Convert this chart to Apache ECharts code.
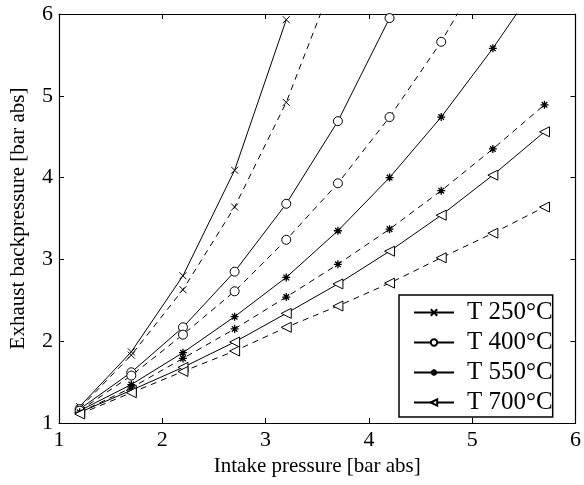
<!DOCTYPE html>
<html>
<head>
<meta charset="utf-8">
<script src="https://cdn.jsdelivr.net/npm/echarts@6/dist/echarts.min.js"></script>
<style>
  html, body { margin: 0; padding: 0; background: #fff; }
  #chart { width: 584px; height: 485px; }
</style>
</head>
<body>
<div id="chart"></div>
<script>
// intake pressure [bar abs]
const intake = [1.2, 1.7, 2.2, 2.7, 3.2, 3.7, 4.2, 4.7, 5.2, 5.7];

// exhaust backpressure, solid lines (in legend)
const t250 = [1.2, 1.87, 2.8, 4.09, 5.93];
const t400 = [1.17, 1.62, 2.17, 2.85, 3.68, 4.69, 5.95];
const t550 = [1.15, 1.47, 1.86, 2.3, 2.78, 3.35, 4.0, 4.74, 5.58, 6.5];
const t700 = [1.13, 1.4, 1.68, 1.99, 2.34, 2.7, 3.1, 3.54, 4.03, 4.56];

// dashed lines (same markers, not in legend)
const t250b = [1.18, 1.83, 2.63, 3.64, 4.92, 6.55];
const t400b = [1.15, 1.58, 2.08, 2.61, 3.24, 3.93, 4.74, 5.66, 6.75];
const t550b = [1.13, 1.43, 1.79, 2.15, 2.54, 2.94, 3.37, 3.84, 4.35, 4.89];
const t700b = [1.11, 1.37, 1.63, 1.88, 2.17, 2.43, 2.71, 3.02, 3.32, 3.64];

const legendNames = ['T 250°C', 'T 400°C', 'T 550°C', 'T 700°C'];
const axisTicks = [1, 2, 3, 4, 5, 6];

const FONT = '"Liberation Serif", "DejaVu Serif", serif';

const crossSym = 'path://M0,0L10,10M10,0L0,10';
const starSym = 'path://M5,0L5,10M0,5L10,5M1.5,1.5L8.5,8.5M8.5,1.5L1.5,8.5';

function pairs(ys) {
  return ys.map((y, i) => [intake[i], y]);
}

function makeSeries(name, ys, symbol, dashed, opts) {
  return Object.assign({
    name: name,
    type: 'line',
    data: pairs(ys),
    symbol: symbol,
    symbolSize: 7,
    showSymbol: true,
    animation: false,
    clip: true,
    lineStyle: { color: '#000', width: 1, type: dashed ? [6, 5] : 'solid' },
    itemStyle: { color: '#000', borderColor: '#000', borderWidth: 1 },
    emphasis: { disabled: true }
  }, opts || {});
}

const chart = echarts.init(document.getElementById('chart'));

// hollow markers: white fill, thin black outline
const circOpts = { symbolSize: 9, itemStyle: { color: '#fff', borderColor: '#000', borderWidth: 1 } };
const triOpts = { symbolRotate: 90, symbolSize: 10, itemStyle: { color: '#fff', borderColor: '#000', borderWidth: 1 } };
const starOpts = { symbolSize: 8, itemStyle: { color: '#000', borderColor: '#000', borderWidth: 1.3 } };

const series = [
  makeSeries(legendNames[0], t250, crossSym, false),
  makeSeries(legendNames[1], t400, 'circle', false, circOpts),
  makeSeries(legendNames[2], t550, starSym, false, starOpts),
  makeSeries(legendNames[3], t700, 'triangle', false, triOpts),
  makeSeries('250 b', t250b, crossSym, true),
  makeSeries('400 b', t400b, 'circle', true, circOpts),
  makeSeries('550 b', t550b, starSym, true, starOpts),
  makeSeries('700 b', t700b, 'triangle', true, triOpts)
];

const baseAxis = {
  type: 'value',
  min: axisTicks[0],
  max: axisTicks[axisTicks.length - 1],
  interval: 1,
  axisLine: { show: true, onZero: false, lineStyle: { color: '#000', width: 1.2 } },
  axisTick: { show: true, inside: true, length: 5, lineStyle: { color: '#000' } },
  splitLine: { show: false },
  axisLabel: { color: '#000', fontFamily: FONT, fontSize: 22 }
};

const option = {
  backgroundColor: '#fff',
  animation: false,
  grid: { left: 56, right: 6, top: 14, bottom: 62, containLabel: false },
  legend: {
    data: legendNames,
    orient: 'vertical',
    left: 399,
    top: 295,
    itemWidth: 40,
    itemHeight: 8,
    itemGap: 5,
    padding: [5, 0, 2, 14],
    borderColor: '#000',
    borderWidth: 1.5,
    backgroundColor: '#fff',
    selectedMode: false,
    textStyle: {
      color: '#000', fontFamily: FONT, fontSize: 25, lineHeight: 25,
      padding: [0, 0, 0, 8]
    }
  },
  xAxis: [
    Object.assign({}, baseAxis, {
      position: 'bottom',
      name: 'Intake pressure [bar abs]',
      nameLocation: 'middle',
      nameGap: 32,
      nameTextStyle: { color: '#000', fontFamily: FONT, fontSize: 21 },
      axisLabel: { color: '#000', fontFamily: FONT, fontSize: 22, margin: 6 }
    }),
    Object.assign({}, baseAxis, { position: 'top', axisLabel: { show: false } })
  ],
  yAxis: [
    Object.assign({}, baseAxis, {
      position: 'left',
      name: 'Exhaust backpressure [bar abs]',
      nameLocation: 'middle',
      nameGap: 30,
      nameTextStyle: { color: '#000', fontFamily: FONT, fontSize: 21 },
      axisLabel: { color: '#000', fontFamily: FONT, fontSize: 22, margin: 6 }
    }),
    Object.assign({}, baseAxis, { position: 'right', axisLabel: { show: false } })
  ],
  series: series
};

chart.setOption(option);
</script>
</body>
</html>
